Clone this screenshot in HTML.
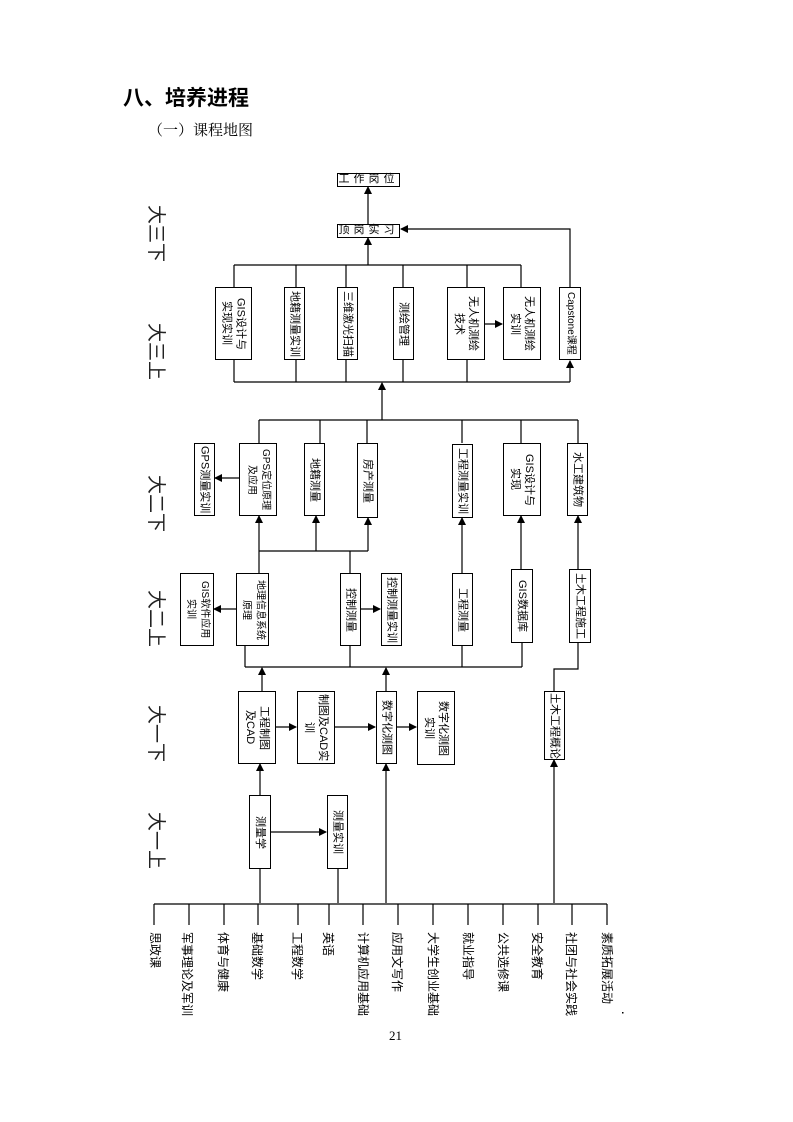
<!DOCTYPE html>
<html><head><meta charset="utf-8"><style>
body{margin:0;background:#fff;}
#p{position:relative;width:793px;height:1122px;overflow:hidden;font-family:"Liberation Sans","Noto Sans CJK SC",sans-serif;color:#000;}
.b{position:absolute;box-sizing:border-box;border:1px solid #000;background:#fff;display:flex;align-items:center;justify-content:center;writing-mode:vertical-rl;text-orientation:sideways;font-size:11px;line-height:14px;text-align:center;white-space:nowrap;}
.l{position:absolute;writing-mode:vertical-rl;text-orientation:sideways;font-size:12px;line-height:12px;white-space:nowrap;}
.y{position:absolute;writing-mode:vertical-rl;text-orientation:sideways;font-size:19px;line-height:20px;color:#222;white-space:nowrap;}
.h{position:absolute;box-sizing:border-box;border:1px solid #000;background:#fff;font-size:11px;text-align:center;line-height:11px;letter-spacing:4px;}
</style></head><body><div id="p">
<div style="position:absolute;left:123px;top:82px;font-size:21px;font-weight:bold;font-family:'Noto Sans CJK SC',sans-serif;">八、培养进程</div>
<div style="position:absolute;left:148px;top:119px;font-size:15px;font-family:'Noto Serif CJK SC',serif;">（一）课程地图</div>
<div style="position:absolute;left:389px;top:1028px;font-size:13px;font-family:'Liberation Serif',serif;">21</div>
<svg width="793" height="1122" style="position:absolute;left:0;top:0" xmlns="http://www.w3.org/2000/svg">
<defs><marker id="a" markerWidth="8" markerHeight="8" refX="7" refY="4" orient="auto" markerUnits="userSpaceOnUse"><path d="M0,0 L8,4 L0,8z" fill="#000"/></marker></defs>
<g stroke="#000" stroke-width="1.2" fill="none">
<line x1="368" y1="225" x2="368" y2="187" marker-end="url(#a)"/>
<line x1="368" y1="265" x2="368" y2="238" marker-end="url(#a)"/>
<polyline points="570,287 570,229 401,229" marker-end="url(#a)"/>
<line x1="234" y1="265" x2="521" y2="265"/>
<line x1="234" y1="265" x2="234" y2="287"/><line x1="296" y1="265" x2="296" y2="287"/><line x1="346" y1="265" x2="346" y2="287"/><line x1="403" y1="265" x2="403" y2="287"/><line x1="467" y1="265" x2="467" y2="287"/><line x1="521" y1="265" x2="521" y2="287"/>
<line x1="485" y1="324" x2="502" y2="324" marker-end="url(#a)"/>
<line x1="234" y1="382" x2="570" y2="382"/>
<line x1="234" y1="360" x2="234" y2="382"/><line x1="296" y1="360" x2="296" y2="382"/><line x1="346" y1="360" x2="346" y2="382"/><line x1="403" y1="360" x2="403" y2="382"/><line x1="467" y1="360" x2="467" y2="382"/>
<line x1="570" y1="382" x2="570" y2="361" marker-end="url(#a)"/>
<line x1="382" y1="420" x2="382" y2="383" marker-end="url(#a)"/>
<line x1="259" y1="420" x2="578" y2="420"/>
<line x1="259" y1="420" x2="259" y2="443"/><line x1="320" y1="420" x2="320" y2="443"/><line x1="367" y1="420" x2="367" y2="443"/><line x1="462" y1="420" x2="462" y2="443"/><line x1="521" y1="420" x2="521" y2="443"/><line x1="578" y1="420" x2="578" y2="443"/>
<line x1="239" y1="478" x2="215" y2="478" marker-end="url(#a)"/>
<line x1="259" y1="551" x2="368" y2="551"/>
<line x1="259" y1="573" x2="259" y2="516" marker-end="url(#a)"/>
<line x1="316" y1="551" x2="316" y2="516" marker-end="url(#a)"/>
<line x1="368" y1="551" x2="368" y2="518" marker-end="url(#a)"/>
<line x1="350" y1="551" x2="350" y2="573"/>
<line x1="236" y1="609" x2="214" y2="609" marker-end="url(#a)"/>
<line x1="360" y1="609" x2="380" y2="609" marker-end="url(#a)"/>
<line x1="462" y1="573" x2="462" y2="518" marker-end="url(#a)"/>
<line x1="521" y1="569" x2="521" y2="516" marker-end="url(#a)"/>
<line x1="578" y1="569" x2="578" y2="516" marker-end="url(#a)"/>
<line x1="245" y1="667" x2="522" y2="667"/>
<line x1="245" y1="646" x2="245" y2="667"/><line x1="350" y1="646" x2="350" y2="667"/><line x1="462" y1="646" x2="462" y2="667"/><line x1="522" y1="643" x2="522" y2="667"/>
<polyline points="578,643 578,669 554,669 554,691"/>
<line x1="262" y1="691" x2="262" y2="668" marker-end="url(#a)"/>
<line x1="386" y1="691" x2="386" y2="668" marker-end="url(#a)"/>
<line x1="275" y1="727" x2="296" y2="727" marker-end="url(#a)"/>
<line x1="335" y1="727" x2="375" y2="727" marker-end="url(#a)"/>
<line x1="397" y1="727" x2="416" y2="727" marker-end="url(#a)"/>
<line x1="260" y1="795" x2="260" y2="764" marker-end="url(#a)"/>
<line x1="271" y1="832" x2="326" y2="832" marker-end="url(#a)"/>
<line x1="260" y1="869" x2="260" y2="903"/><line x1="338" y1="869" x2="338" y2="903"/>
<line x1="386" y1="903" x2="386" y2="764" marker-end="url(#a)"/>
<line x1="554" y1="903" x2="554" y2="760" marker-end="url(#a)"/>
<line x1="154" y1="904" x2="607" y2="904"/>
<line x1="154" y1="904" x2="154" y2="925"/><line x1="189" y1="904" x2="189" y2="925"/><line x1="224" y1="904" x2="224" y2="925"/><line x1="258" y1="904" x2="258" y2="925"/><line x1="298" y1="904" x2="298" y2="925"/><line x1="329" y1="904" x2="329" y2="925"/><line x1="363" y1="904" x2="363" y2="925"/><line x1="398" y1="904" x2="398" y2="925"/><line x1="433" y1="904" x2="433" y2="925"/><line x1="468" y1="904" x2="468" y2="925"/><line x1="503" y1="904" x2="503" y2="925"/><line x1="538" y1="904" x2="538" y2="925"/><line x1="572" y1="904" x2="572" y2="925"/><line x1="607" y1="904" x2="607" y2="925"/>
</g>
<rect x="622" y="1012" width="1.5" height="1.5" fill="#000"/>
</svg>
<div class="y" style="left:145px;top:205px">大三下</div>
<div class="y" style="left:145px;top:323px">大三上</div>
<div class="y" style="left:145px;top:475px">大二下</div>
<div class="y" style="left:145px;top:590px">大二上</div>
<div class="y" style="left:145px;top:705px">大一下</div>
<div class="y" style="left:145px;top:812px">大一上</div>
<div class="h" style="left:337px;top:173px;width:63px;height:14px">工作岗位</div>
<div class="h" style="left:337px;top:224px;width:63px;height:14px">顶岗实习</div>
<div class="b" style="left:215px;top:287px;width:37px;height:73px">GIS设计与<br>实现实训</div>
<div class="b" style="left:284px;top:287px;width:21px;height:73px">地籍测量实训</div>
<div class="b" style="left:337px;top:287px;width:21px;height:73px">三维激光扫描</div>
<div class="b" style="left:393px;top:287px;width:21px;height:73px">测绘管理</div>
<div class="b" style="left:447px;top:287px;width:38px;height:73px">无人机测绘<br>技术</div>
<div class="b" style="left:503px;top:287px;width:38px;height:73px">无人机测绘<br>实训</div>
<div class="b" style="left:559px;top:287px;width:22px;height:73px;font-size:10px">Capstone课程</div>
<div class="b" style="left:194px;top:443px;width:21px;height:73px">GPS测量实训</div>
<div class="b" style="left:239px;top:443px;width:38px;height:73px;font-size:10px">GPS定位原理<br>及应用</div>
<div class="b" style="left:304px;top:443px;width:21px;height:73px">地籍测量</div>
<div class="b" style="left:357px;top:443px;width:21px;height:75px">房产测量</div>
<div class="b" style="left:452px;top:444px;width:21px;height:74px">工程测量实训</div>
<div class="b" style="left:503px;top:443px;width:38px;height:73px">GIS设计与<br>实现</div>
<div class="b" style="left:567px;top:443px;width:21px;height:73px">水工建筑物</div>
<div class="b" style="left:180px;top:573px;width:34px;height:73px;font-size:10px">GIS软件应用<br>实训</div>
<div class="b" style="left:236px;top:573px;width:33px;height:73px;font-size:10px">地理信息系统<br>原理</div>
<div class="b" style="left:340px;top:573px;width:21px;height:73px">控制测量</div>
<div class="b" style="left:381px;top:573px;width:21px;height:73px">控制测量实训</div>
<div class="b" style="left:452px;top:573px;width:21px;height:73px">工程测量</div>
<div class="b" style="left:511px;top:569px;width:22px;height:74px">GIS数据库</div>
<div class="b" style="left:569px;top:569px;width:22px;height:74px">土木工程施工</div>
<div class="b" style="left:238px;top:691px;width:38px;height:73px">工程制图<br>及CAD</div>
<div class="b" style="left:297px;top:691px;width:38px;height:73px">制图及CAD实<br>训</div>
<div class="b" style="left:376px;top:691px;width:21px;height:73px">数字化测图</div>
<div class="b" style="left:417px;top:691px;width:38px;height:74px">数字化测图<br>实训</div>
<div class="b" style="left:544px;top:691px;width:21px;height:69px">土木工程概论</div>
<div class="b" style="left:249px;top:795px;width:22px;height:74px">测量学</div>
<div class="b" style="left:327px;top:795px;width:21px;height:74px">测量实训</div>
<div class="l" style="left:149px;top:932px">思政课</div>
<div class="l" style="left:181px;top:932px">军事理论及军训</div>
<div class="l" style="left:217px;top:932px">体育与健康</div>
<div class="l" style="left:251px;top:932px">基础数学</div>
<div class="l" style="left:291px;top:932px">工程数学</div>
<div class="l" style="left:322px;top:932px">英语</div>
<div class="l" style="left:357px;top:932px">计算机应用基础</div>
<div class="l" style="left:391px;top:932px">应用文写作</div>
<div class="l" style="left:427px;top:932px">大学生创业基础</div>
<div class="l" style="left:462px;top:932px">就业指导</div>
<div class="l" style="left:497px;top:932px">公共选修课</div>
<div class="l" style="left:531px;top:932px">安全教育</div>
<div class="l" style="left:565px;top:932px">社团与社会实践</div>
<div class="l" style="left:601px;top:932px">素质拓展活动</div>
</div></body></html>
